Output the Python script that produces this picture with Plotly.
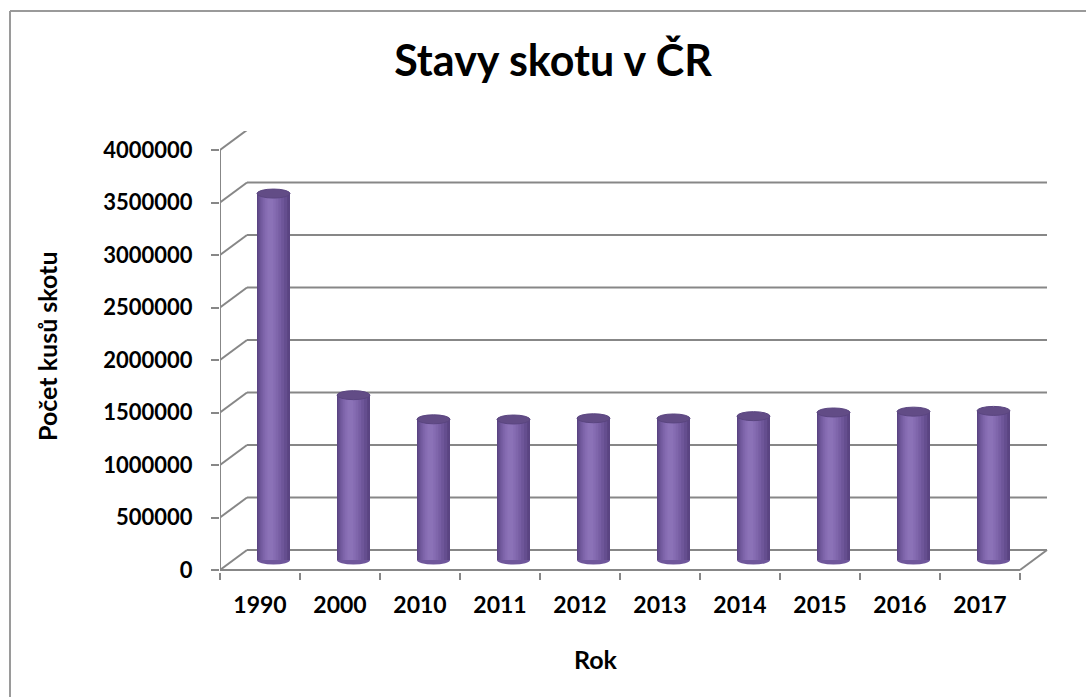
import plotly.graph_objects as go

# ---- data ----
years = ["1990", "2000", "2010", "2011", "2012", "2013", "2014", "2015", "2016", "2017"]
cattle = [3490000, 1570000, 1340000, 1338000, 1350000, 1348000, 1370000, 1405000, 1413000, 1420000]
y_ticks = [0, 500000, 1000000, 1500000, 2000000, 2500000, 3000000, 3500000, 4000000]
y_tick_text = [str(v) for v in y_ticks]

title_text = "Stavy skotu v ČR"
x_title = "Rok"
y_title = "Počet kusů skotu"

# ---- layout geometry (pixels) ----
W, H = 1086, 697
L, R, T, B = 220, 38, 131, 125
plot_w = W - L - R
plot_h = H - T - B
PX_PER_CAT = 80.0
PX_PER_UNIT = 105.0 / 1e6          # px per head of cattle
ZERO_PX = 570                      # pixel row of value 0 (front)
DEPTH_X_PX, DEPTH_Y_PX = 27.0, 20.0

x_lo = -0.5
x_hi = x_lo + plot_w / PX_PER_CAT
y_lo = -(T + plot_h - ZERO_PX) / PX_PER_UNIT
y_hi = (ZERO_PX - T) / PX_PER_UNIT

dxc = DEPTH_X_PX / PX_PER_CAT       # depth in category units
dyv = DEPTH_Y_PX / PX_PER_UNIT      # depth in value units
n = len(years)

cyl_w = 33.0 / PX_PER_CAT
cyl_c = dxc / 2                     # cylinder centre offset from category centre
base_v = dyv / 2
ell_h = 9.0 / PX_PER_UNIT

FONT = "Lato"
GRID = "#878787"

fig = go.Figure()

# gradient strips to imitate the shaded cylinder
strips = [
    (1.00, 0.000, "#5a4482"),
    (0.88, -0.010, "#654e8f"),
    (0.74, -0.020, "#6e5699"),
    (0.60, -0.028, "#775ea3"),
    (0.46, -0.034, "#7f66ab"),
    (0.32, -0.038, "#866cb2"),
    (0.18, -0.040, "#8b72b7"),
]
for frac, shift, col in strips:
    w = cyl_w * frac
    fig.add_trace(go.Bar(
        x=years, y=cattle, base=[base_v] * n,
        width=w, offset=cyl_c + shift - w / 2,
        marker=dict(color=col, line=dict(width=0)),
        hoverinfo="skip", showlegend=False,
    ))

shapes = []
# back wall gridlines + side-wall diagonals
for v in y_ticks:
    shapes.append(dict(type="line", xref="x", yref="y", layer="below",
                       x0=x_lo, y0=v, x1=x_lo + dxc, y1=v + dyv,
                       line=dict(color=GRID, width=2)))
    shapes.append(dict(type="line", xref="x", yref="y", layer="below",
                       x0=x_lo + dxc, y0=v + dyv, x1=n - 0.5 + dxc, y1=v + dyv,
                       line=dict(color=GRID, width=2)))
# front vertical axis line
shapes.append(dict(type="line", xref="x", yref="y", layer="below",
                   x0=x_lo, y0=0, x1=x_lo, y1=y_ticks[-1],
                   line=dict(color=GRID, width=2)))
# front floor line and right floor diagonal
shapes.append(dict(type="line", xref="x", yref="y", layer="below",
                   x0=x_lo, y0=0, x1=n - 0.5, y1=0,
                   line=dict(color=GRID, width=2)))
shapes.append(dict(type="line", xref="x", yref="y", layer="below",
                   x0=n - 0.5, y0=0, x1=n - 0.5 + dxc, y1=dyv,
                   line=dict(color=GRID, width=2)))
# cylinder bottoms and tops
for i, v in enumerate(cattle):
    cx = i + cyl_c
    shapes.append(dict(type="circle", xref="x", yref="y", layer="below",
                       x0=cx - cyl_w / 2, x1=cx + cyl_w / 2,
                       y0=base_v - ell_h / 2, y1=base_v + ell_h / 2,
                       fillcolor="#6f579b", line=dict(width=0)))
    top = base_v + v
    shapes.append(dict(type="circle", xref="x", yref="y", layer="above",
                       x0=cx - cyl_w / 2, x1=cx + cyl_w / 2,
                       y0=top - ell_h / 2, y1=top + ell_h / 2,
                       fillcolor="#624c86", line=dict(color="#5a4580", width=1)))

# outer chart border (top and left edges visible)
def px2paper_x(px):
    return (px - L) / plot_w

def px2paper_y(py):
    return (T + plot_h - py) / plot_h

shapes.append(dict(type="line", xref="paper", yref="paper",
                   x0=px2paper_x(10), y0=px2paper_y(11), x1=px2paper_x(W + 5), y1=px2paper_y(11),
                   line=dict(color="#9a9a9a", width=2)))
shapes.append(dict(type="line", xref="paper", yref="paper",
                   x0=px2paper_x(10), y0=px2paper_y(11), x1=px2paper_x(10), y1=px2paper_y(H + 5),
                   line=dict(color="#9a9a9a", width=2)))

annotations = [
    dict(text=f"<b>{x_title}</b>", xref="paper", yref="paper",
         x=px2paper_x(596), y=px2paper_y(659), xanchor="center", yanchor="middle",
         showarrow=False, font=dict(family=FONT, size=25, color="black")),
    dict(text=f"<b>{y_title}</b>", xref="paper", yref="paper",
         x=px2paper_x(47), y=px2paper_y(346), xanchor="center", yanchor="middle",
         textangle=-90, showarrow=False, font=dict(family=FONT, size=25, color="black")),
]

fig.update_layout(
    width=W, height=H,
    margin=dict(l=L, r=R, t=T, b=B, autoexpand=False),
    paper_bgcolor="white", plot_bgcolor="white",
    barmode="overlay",
    showlegend=False,
    title=dict(text=f"<b>{title_text}</b>", x=553 / W, y=1 - 61 / H,
               xanchor="center", yanchor="middle",
               font=dict(family=FONT, size=43, color="black")),
    xaxis=dict(type="category", range=[x_lo, x_hi], showgrid=False, showline=False,
               zeroline=False, ticks="outside", tickson="boundaries", ticklen=7,
               tickwidth=2, tickcolor=GRID, ticklabelstandoff=17,
               tickfont=dict(family=FONT, size=23, color="black", weight="bold")),
    yaxis=dict(range=[y_lo, y_hi], showgrid=False, showline=False, zeroline=False,
               tickmode="array", tickvals=y_ticks, ticktext=y_tick_text,
               ticks="outside", ticklen=8, tickwidth=2, tickcolor=GRID,
               ticklabelstandoff=14,
               tickfont=dict(family=FONT, size=22, color="black", weight="bold")),
    shapes=shapes,
    annotations=annotations,
)

fig.write_html("out.html", config={"displayModeBar": False},
               post_script="document.body.style.margin='0';")
